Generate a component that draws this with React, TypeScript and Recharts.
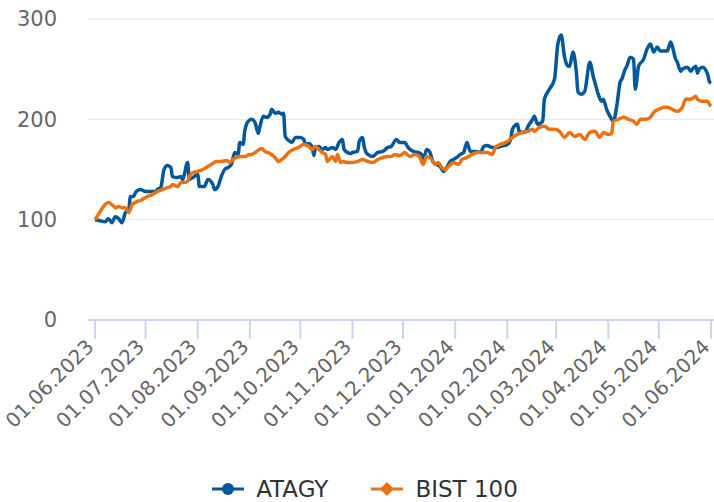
import React from 'react'
import { LineChart, Line, XAxis, YAxis, CartesianGrid, Legend } from 'recharts'

// gün sayısı: 01.06.2023'ten itibaren
const atagyDays = [0,3,6,8,10,12,14,16,18,20,21,23,24,27,30,33,36,37,39,41,43,45,46,49,51,52,55,56,59,61,62,65,67,70,71,73,75,77,79,81,83,85,86,88,89,91,93,95,97,98,100,102,104,105,107,109,111,112,113,115,117,119,122,124,125,127,129,130,131,133,135,137,138,141,143,145,147,148,150,152,153,156,157,159,160,162,165,168,171,174,176,179,181,184,186,189,192,194,195,197,199,201,203,205,207,209,211,213,215,217,219,221,223,226,229,231,233,236,239,241,245,247,248,251,252,254,256,257,260,261,263,266,267,270,273,275,277,279,281,282,284,286,287,289,291,294,296,297,299,301,302,304,306,308,310,312,313,315,316,318,320,321,323,326,328,330,332,334,336,338,340,342,343,345,346,348,349,352,354,355,357,358,359,361,364,365,366]
const atagyValues = [100,99,98,101,97,103,101,97,107,110,123,123,127,130,128,128,128,130,132,150,154,152,143,142,143,140,157,140,143,145,133,133,140,135,130,133,143,150,152,155,167,165,177,175,189,198,200,197,186,193,203,202,205,210,206,207,205,206,183,179,177,182,182,180,175,176,172,164,172,173,170,172,170,172,170,177,180,170,167,166,167,168,178,182,172,165,163,167,168,172,173,180,177,177,172,168,167,165,158,170,167,157,155,153,148,152,158,160,162,165,167,177,168,168,167,173,174,172,172,173,175,180,190,195,188,187,188,192,200,203,195,198,220,230,240,275,284,262,253,253,267,247,227,225,228,257,243,237,225,218,220,210,203,198,213,237,240,250,253,262,260,230,253,260,270,275,267,272,268,268,268,277,273,260,257,248,250,252,248,250,253,246,250,252,245,238,236]

const bistDays = [0,3,5,8,10,12,14,16,18,20,22,25,28,31,34,37,40,43,45,46,49,51,52,55,56,58,61,64,67,68,70,72,75,78,80,82,84,86,89,92,93,96,99,101,104,107,109,111,113,115,118,121,124,127,129,131,133,135,137,138,141,143,144,146,147,150,153,156,159,162,165,168,171,174,176,178,181,183,184,187,190,193,195,197,200,202,204,206,208,210,213,216,218,221,224,227,230,233,236,238,241,244,245,248,251,254,257,260,261,264,267,270,273,276,279,282,285,288,291,294,297,300,302,305,307,308,311,314,317,320,322,324,327,330,332,335,338,340,343,346,349,351,354,357,358,361,364,365,366]
const bistValues = [100,108,113,117,115,112,113,112,112,107,115,118,120,123,125,128,130,132,133,135,133,137,137,138,143,147,148,150,153,154,156,158,158,159,157,160,162,163,163,165,165,168,171,168,166,162,158,160,163,167,170,172,175,173,170,173,170,167,165,158,163,158,165,157,158,157,157,158,160,158,157,160,162,163,163,165,164,166,167,163,165,162,155,163,160,155,157,152,150,153,157,155,160,162,165,167,167,167,165,172,175,177,178,182,185,187,188,190,188,192,193,190,190,188,182,187,183,185,180,187,188,182,187,185,186,198,200,202,200,198,195,200,200,202,207,210,212,212,210,208,212,220,220,223,220,218,218,215,213]

const monthTicks = [0,30,61,92,122,153,183,214,245,274,305,335,366]
const monthLabels = ['01.06.2023','01.07.2023','01.08.2023','01.09.2023','01.10.2023','01.11.2023','01.12.2023','01.01.2024','01.02.2024','01.03.2024','01.04.2024','01.05.2024','01.06.2024']
const yTicks = [0, 100, 200, 300]

const atagyData = atagyDays.map((d, i) => ({ day: d, value: atagyValues[i] }))
const bistData = bistDays.map((d, i) => ({ day: d, value: bistValues[i] }))

const FONT = '"DejaVu Sans", sans-serif'
const BLUE = '#02589b'
const ORANGE = '#ec7211'

const DateTick = (props: any) => {
  const { x, y, payload } = props
  const idx = monthTicks.indexOf(payload.value)
  return (
    <g transform={`translate(${x},${y + 1})`}>
      <text x={0} y={0} textAnchor="end" transform="rotate(-45)" fill="#666" fontSize={20} fontFamily={FONT}>
        {monthLabels[idx]}
      </text>
    </g>
  )
}

const LegendBox = () => (
  <div style={{ height: 52, display: 'flex', justifyContent: 'center', alignItems: 'center', paddingLeft: 16, paddingTop: 26, boxSizing: 'border-box', fontFamily: FONT, fontSize: 23, color: '#333' }}>
    <svg width={32} height={14} style={{ marginRight: 12 }}>
      <line x1={0} y1={7} x2={32} y2={7} stroke={BLUE} strokeWidth={3} />
      <circle cx={16} cy={7} r={6} fill={BLUE} />
    </svg>
    <span style={{ marginRight: 43 }}>ATAGY</span>
    <svg width={32} height={14} style={{ marginRight: 12 }}>
      <line x1={0} y1={7} x2={32} y2={7} stroke={ORANGE} strokeWidth={3} />
      <path d="M16 0 L23 7 L16 14 L9 7 Z" fill={ORANGE} />
    </svg>
    <span>BIST 100</span>
  </div>
)

export default function App() {
  return (
    <div style={{ position: 'absolute', left: 0, top: 0, background: '#fff' }}>
      <LineChart width={714} height={502} margin={{ top: 19, right: 0, left: 0, bottom: 0 }}>
        <CartesianGrid vertical={false} stroke="#e6e6e6" strokeWidth={1} />
        <XAxis
          type="number"
          dataKey="day"
          domain={[-4.2, 367.8]}
          ticks={monthTicks}
          interval={0}
          height={130}
          stroke="#ccd6eb"
          strokeWidth={2}
          tickSize={19}
          tickMargin={8}
          tick={<DateTick />}
        />
        <YAxis
          domain={[0, 300]}
          ticks={yTicks}
          width={88}
          axisLine={false}
          tickLine={false}
          tickSize={0}
          tickMargin={31}
          tick={{ fill: '#666', fontSize: 21, fontFamily: FONT }}
        />
        <Legend verticalAlign="bottom" content={<LegendBox />} />
        <Line data={atagyData} dataKey="value" name="ATAGY" type="monotone" stroke={BLUE} strokeWidth={3.5} dot={false} activeDot={false} isAnimationActive={false} />
        <Line data={bistData} dataKey="value" name="BIST 100" type="monotone" stroke={ORANGE} strokeWidth={3.5} dot={false} activeDot={false} isAnimationActive={false} />
      </LineChart>
    </div>
  )
}
